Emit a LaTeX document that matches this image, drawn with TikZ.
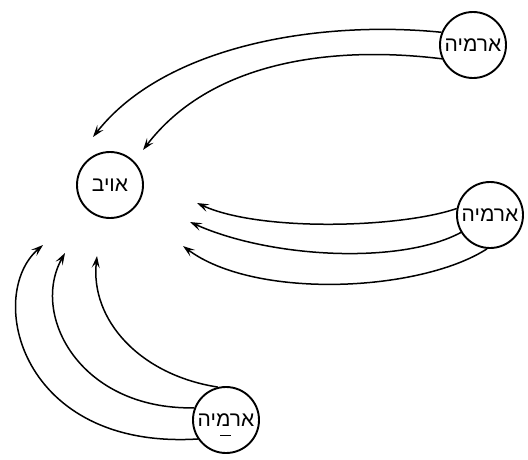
\documentclass[tikz,border=0pt]{standalone}
\usepackage{fontspec}
\newfontfamily\hebfont[Script=Hebrew]{Liberation Sans}
\TeXXeTstate=1
\usetikzlibrary{arrows.meta}
\tikzset{
    unit/.style={draw, circle, line width=1.9pt, minimum size=66pt, inner sep=0pt,
        font=\hebfont\fontsize{21}{23}\selectfont},
    attack/.style={line width=1.5pt, -{Stealth[length=12pt,width=8pt,inset=5pt]}}
}
\begin{document}
\begin{tikzpicture}
                [x=1pt,y=-1pt]
                \useasboundingbox (0,0) rectangle (528,459);
                \node[unit] (oyev) at (110,185) {\beginR אויב\endR};
                \node[unit] (armyA) at (473,45) {\beginR ארמיה\endR};
                \node[unit] (armyB) at (490,215) {\beginR ארמיה\endR};
                \node[unit] (armyC) at (226,420) {\beginR ארמיה\endR};

                % where the arrows stop, round the enemy
                \coordinate (a1) at (93,137);
                \coordinate (a2) at (143,150);
                \coordinate (b1) at (197,203);
                \coordinate (b2) at (190,222);
                \coordinate (b3) at (183,246);
                \coordinate (c1) at (43,245);
                \coordinate (c2) at (65,253);
                \coordinate (c3) at (97,256);

                \draw[attack] (armyA.158) .. controls (320,20) and (165,45) .. (a1);
                \draw[attack] (armyA.204) .. controls (330,45) and (210,62) .. (a2);

                \draw[attack] (armyB.169) .. controls (400,228) and (260,232) .. (b1);
                \draw[attack] (armyB.211) .. controls (400,265) and (270,258) .. (b2);
                \draw[attack] (armyB.265) .. controls (420,292) and (255,300) .. (b3);

                \draw[attack] (armyC.214) .. controls (20,450) and (-15,295) .. (c1);
                \draw[attack] (armyC.159) .. controls (80,410) and (30,315) .. (c2);
                \draw[attack] (armyC.104) .. controls (140,375) and (90,320) .. (c3);

                \draw[line width=1pt] (armyC.center) ++(-6,15) -- ++(11,0);
            \end{tikzpicture}
\end{document}
